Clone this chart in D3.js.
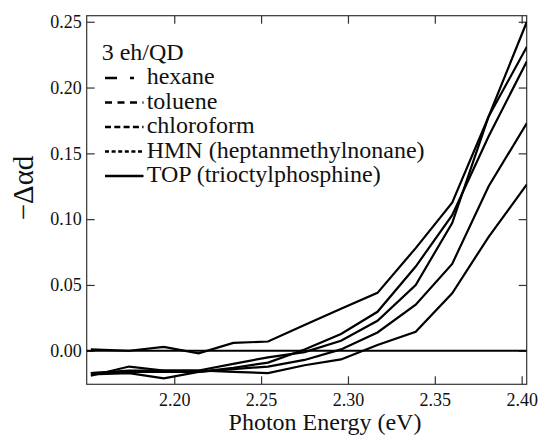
<!DOCTYPE html>
<html>
<head>
<meta charset="utf-8">
<script src="https://cdn.jsdelivr.net/npm/d3@7"></script>
<style>
    html, body { margin: 0; padding: 0; background: #ffffff; }
    #chart svg { display: block; }
    #chart text { font-family: 'Liberation Serif', 'DejaVu Serif', serif; }
</style>
</head>
<body>
<div id="chart"></div>
<script>
// ==========================================================================
// DADOS
// ==========================================================================

// photon energy of each sample point (eV)
const energies = [2.152, 2.174, 2.194, 2.214, 2.234, 2.254, 2.275, 2.296, 2.317, 2.339, 2.360, 2.381, 2.403];

// -Δαd for each solvent
const hexane     = [-0.017, -0.015, -0.015, -0.015, -0.010, -0.005, -0.001, 0.0076, 0.0228, 0.050, 0.097, 0.178, 0.250];
const toluene    = [-0.018, -0.017, -0.021, -0.016, -0.013, -0.009, 0.001, 0.0127, 0.0296, 0.064, 0.103, 0.163, 0.220];
const chloroform = [-0.017, -0.016, -0.016, -0.016, -0.014, -0.012, -0.007, 0.001, 0.0139, 0.035, 0.066, 0.125, 0.173];
const hmn        = [-0.019, -0.012, -0.015, -0.015, -0.016, -0.017, -0.011, -0.0066, 0.0043, 0.0144, 0.0436, 0.0866, 0.1264];
const topSolvent = [0.001, 0.000, 0.003, -0.002, 0.006, 0.007, 0.0195, 0.032, 0.044, 0.078, 0.1125, 0.178, 0.231];

const seriesNames = ['hexane', 'toluene', 'chloroform', 'HMN (heptanmethylnonane)', 'TOP (trioctylphosphine)'];
const seriesValues = [hexane, toluene, chloroform, hmn, topSolvent];

const xTicks = [2.20, 2.25, 2.30, 2.35, 2.40];
const yTicks = [0.00, 0.05, 0.10, 0.15, 0.20, 0.25];

const legendTitle = '3 eh/QD';
const xTitle = 'Photon Energy (eV)';
const yTitle = '\u2212\u0394\u03b1d';

// ==========================================================================
// CONFIGURAÇÕES
// ==========================================================================

const CONFIG = {
    width: 539,
    height: 437,
    plot: { left: 86.7, right: 526.7, top: 15.7, bottom: 384.3 },
    xDomain: [2.1496, 2.4029],
    yDomain: [-0.0255, 0.2546],
    font: 'Liberation Serif',
    frameColor: '#333',
    tickLen: 8,
    // legend sample dash patterns (same order as seriesNames)
    dashes: ['12,13,4,40', '7,5.5', '6,3.3', '4,2.6', null]
};

// ==========================================================================
// RENDER
// ==========================================================================

function render() {
    const p = CONFIG.plot;

    const svg = d3.select('#chart')
        .append('svg')
        .attr('width', CONFIG.width)
        .attr('height', CONFIG.height)
        .attr('font-family', CONFIG.font);

    const x = d3.scaleLinear().domain(CONFIG.xDomain).range([p.left, p.right]);
    const y = d3.scaleLinear().domain(CONFIG.yDomain).range([p.bottom, p.top]);

    // clip
    svg.append('clipPath').attr('id', 'clip')
        .append('rect')
        .attr('x', p.left).attr('y', p.top)
        .attr('width', p.right - p.left).attr('height', p.bottom - p.top);

    // eixos (ticks pra dentro, nos 4 lados)
    const styleAxis = g => {
        g.attr('font-family', CONFIG.font);
        g.select('.domain').remove();
        g.selectAll('.tick line').attr('stroke', CONFIG.frameColor).attr('stroke-width', 1.2);
        g.selectAll('.tick text').attr('fill', '#111').attr('font-size', 18);
    };

    svg.append('g')
        .attr('transform', `translate(0,${p.bottom})`)
        .call(d3.axisBottom(x).tickValues(xTicks).tickFormat(d3.format('.2f')).tickSize(-CONFIG.tickLen).tickPadding(9))
        .call(styleAxis);

    svg.append('g')
        .attr('transform', `translate(0,${p.top})`)
        .call(d3.axisTop(x).tickValues(xTicks).tickFormat('').tickSize(-CONFIG.tickLen))
        .call(styleAxis);

    svg.append('g')
        .attr('transform', `translate(${p.left},0)`)
        .call(d3.axisLeft(y).tickValues(yTicks).tickFormat(d3.format('.2f')).tickSize(-CONFIG.tickLen).tickPadding(5))
        .call(styleAxis);

    svg.append('g')
        .attr('transform', `translate(${p.right},0)`)
        .call(d3.axisRight(y).tickValues(yTicks).tickFormat('').tickSize(-CONFIG.tickLen))
        .call(styleAxis);

    // moldura
    svg.append('rect')
        .attr('x', p.left).attr('y', p.top)
        .attr('width', p.right - p.left).attr('height', p.bottom - p.top)
        .attr('fill', 'none')
        .attr('stroke', CONFIG.frameColor)
        .attr('stroke-width', 1.2);

    const plotArea = svg.append('g').attr('clip-path', 'url(#clip)');

    // linha do zero
    plotArea.append('line')
        .attr('x1', p.left).attr('x2', p.right)
        .attr('y1', y(0)).attr('y2', y(0))
        .attr('stroke', '#000')
        .attr('stroke-width', 2.2);

    // curvas
    const line = d3.line()
        .x((d, i) => x(energies[i]))
        .y(d => y(d));

    plotArea.selectAll('.series')
        .data(seriesValues)
        .enter().append('path')
        .attr('class', 'series')
        .attr('d', d => line(d))
        .attr('fill', 'none')
        .attr('stroke', '#000')
        .attr('stroke-width', 2.2)
        .attr('stroke-linejoin', 'miter');

    // títulos dos eixos
    svg.append('text')
        .attr('x', 325)
        .attr('y', 430)
        .attr('text-anchor', 'middle')
        .attr('font-size', 24)
        .attr('fill', '#111')
        .text(xTitle);

    svg.append('text')
        .attr('transform', 'translate(33,188) rotate(-90)')
        .attr('text-anchor', 'middle')
        .attr('font-size', 29)
        .attr('fill', '#111')
        .text(yTitle);

    renderLegend(svg);
}

function renderLegend(svg) {
    const legend = svg.append('g').attr('class', 'legend');

    legend.append('text')
        .attr('x', 101.7)
        .attr('y', 59.5)
        .attr('font-size', 24)
        .attr('fill', '#111')
        .text(legendTitle);

    const items = legend.selectAll('.legend-item')
        .data(seriesNames)
        .enter().append('g')
        .attr('class', 'legend-item')
        .attr('transform', (d, i) => `translate(0,${84 + i * 24.5})`);

    items.append('line')
        .attr('x1', 105).attr('x2', 143.5)
        .attr('y1', -6).attr('y2', -6)
        .attr('stroke', '#000')
        .attr('stroke-width', 2.4)
        .attr('stroke-dasharray', (d, i) => CONFIG.dashes[i]);

    items.append('text')
        .attr('x', 146.7)
        .attr('y', 0)
        .attr('font-size', 24)
        .attr('fill', '#111')
        .text(d => d);
}

render();
</script>
</body>
</html>
